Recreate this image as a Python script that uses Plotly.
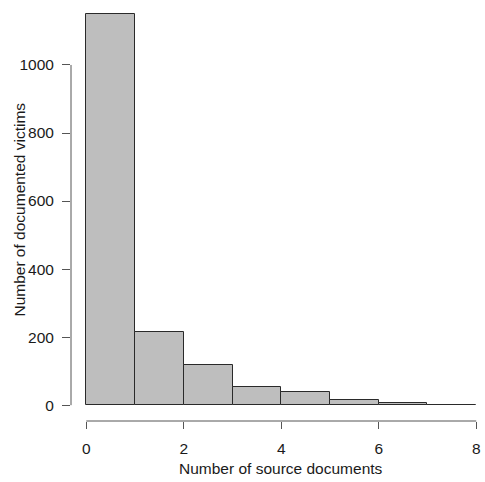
import plotly.graph_objects as go

# Histogram data (bin edges and counts)
bin_edges = [0, 1, 2, 3, 4, 5, 6, 7, 8]
counts = [1151, 216, 119, 54, 39, 14, 7, 2]
x_ticks = [0, 2, 4, 6, 8]
y_ticks = [0, 200, 400, 600, 800, 1000]
x_title = "Number of source documents"
y_title = "Number of documented victims"

mids = [(a + b) / 2 for a, b in zip(bin_edges[:-1], bin_edges[1:])]
widths = [b - a for a, b in zip(bin_edges[:-1], bin_edges[1:])]

FONT = "Liberation Sans, Arial, Helvetica, sans-serif"
AXIS_COLOR = "#555555"
TEXT_COLOR = "#1a1a1a"
FS = 15.5

fig = go.Figure()
fig.add_trace(go.Bar(
    x=mids, y=counts, width=widths,
    marker=dict(color="#bebebe", line=dict(color="#2a2a2a", width=1)),
    hoverinfo="x+y",
))

fig.update_layout(
    width=485, height=482,
    margin=dict(l=71, r=0, t=0, b=60.5),
    paper_bgcolor="white", plot_bgcolor="white",
    showlegend=False,
    font=dict(family=FONT, size=FS, color=TEXT_COLOR),
    bargap=0,
    xaxis=dict(
        range=[-0.314, 8.18], tickvals=x_ticks, ticktext=[str(v) for v in x_ticks],
        showgrid=False, zeroline=False, showline=False,
        ticks="outside", ticklen=7, tickcolor=AXIS_COLOR, tickwidth=1,
        ticklabelstandoff=6, ticklabeloverflow="allow",
    ),
    yaxis=dict(
        range=[-46.5, 1191], tickvals=y_ticks, ticktext=[str(v) for v in y_ticks],
        showgrid=False, zeroline=False, showline=False,
        ticks="outside", ticklen=8, tickcolor=AXIS_COLOR, tickwidth=1,
        ticklabelstandoff=5,
    ),
    shapes=[
        dict(type="line", xref="x", yref="paper", x0=x_ticks[0], x1=x_ticks[-1], y0=0, y1=0,
             line=dict(color=AXIS_COLOR, width=1)),
        dict(type="line", xref="paper", yref="y", x0=0, x1=0, y0=y_ticks[0], y1=y_ticks[-1],
             line=dict(color=AXIS_COLOR, width=1)),
    ],
    annotations=[
        dict(text=x_title, xref="x", yref="paper", x=4, y=0, yshift=-47.5,
             xanchor="center", yanchor="middle", showarrow=False,
             font=dict(family=FONT, size=FS, color=TEXT_COLOR)),
        dict(text=y_title, xref="paper", yref="y", x=0, y=575, xshift=-51,
             xanchor="center", yanchor="middle", textangle=-90, showarrow=False,
             font=dict(family=FONT, size=FS, color=TEXT_COLOR)),
    ],
)

fig.write_html(
    "out.html",
    config={"displayModeBar": False},
    post_script="document.body.style.margin='0';document.body.style.overflow='hidden';",
)
